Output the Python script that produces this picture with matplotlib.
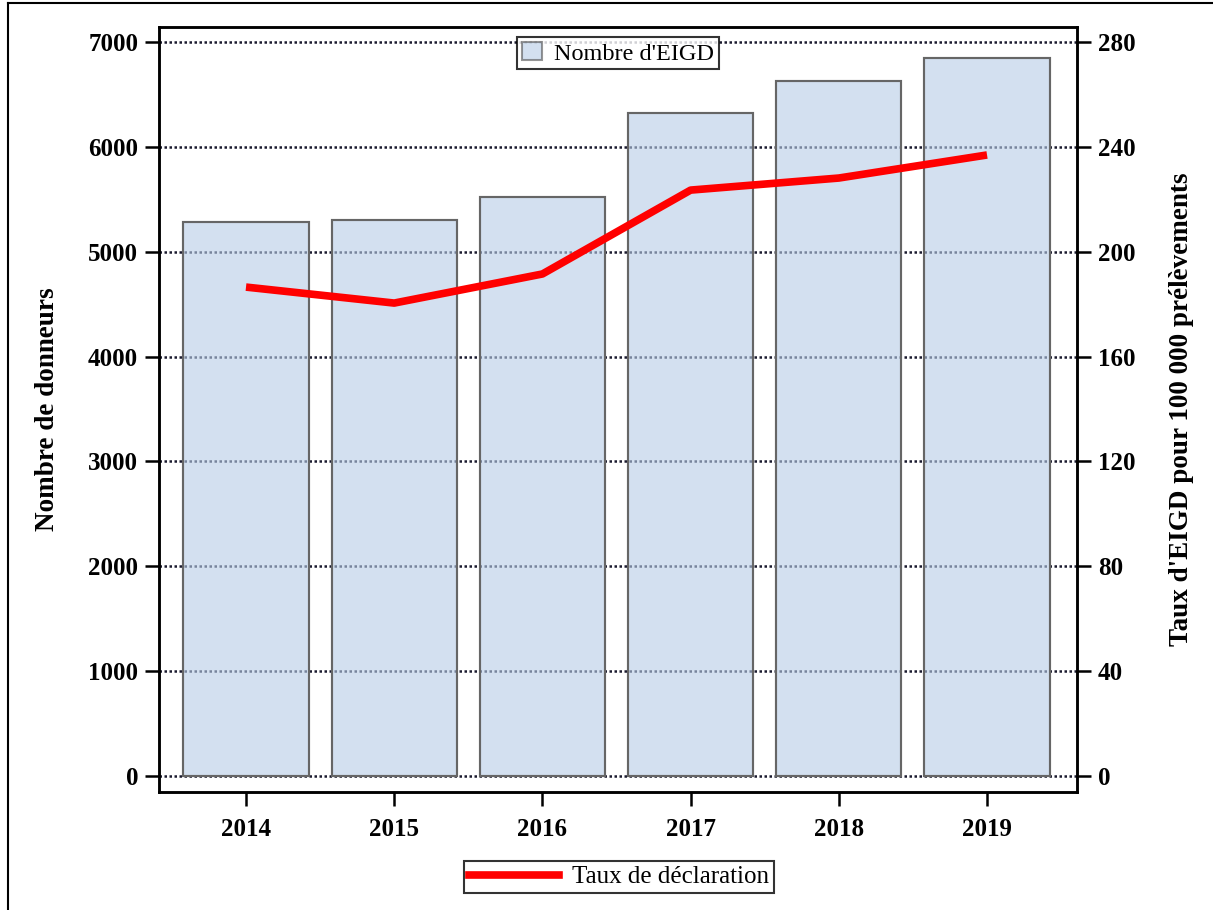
import matplotlib
matplotlib.use("Agg")
import matplotlib.pyplot as plt
from matplotlib.lines import Line2D

plt.rcParams["font.family"] = ["Liberation Serif", "DejaVu Serif"]

years = [2014, 2015, 2016, 2017, 2018, 2019]
nb_eigd = [5283, 5302, 5522, 6323, 6628, 6847]
taux = [186.5, 180.4, 191.5, 223.5, 228.1, 236.9]

fig = plt.figure(figsize=(12.13, 9.10), dpi=100)
ax = fig.add_axes([159 / 1213, 1 - 792 / 910, (1077 - 159) / 1213, (792 - 27) / 910])
ax2 = ax.twinx()

# bars on the left axis, rate line on the right one
ax.set_zorder(1)
ax2.set_zorder(2)
ax2.patch.set_visible(False)

ax.bar(years, nb_eigd, width=0.845, color="#B7CCE6", alpha=0.6,
       edgecolor="#505050", linewidth=1.5, zorder=3, label="Nombre d'EIGD")
# bar outlines fully opaque
ax.bar(years, nb_eigd, width=0.845, fill=False, edgecolor="#666666",
       linewidth=1.5, zorder=4)
ax2.plot(years, taux, color="#FF0000", linewidth=5.5, solid_capstyle="butt",
         label="Taux de déclaration")

ax.set_xlim(2013.413, 2019.607)
ax.set_ylim(-153, 7143)
ax2.set_ylim(-153 * 0.04, 7143 * 0.04)
ax.set_yticks(range(0, 7001, 1000))
ax2.set_yticks(range(0, 281, 40))
ax.set_xticks(years)

ax.yaxis.grid(True, linestyle=(0, (1, 1)), color="#1a1a2e", linewidth=1.8, zorder=0)
ax.set_axisbelow(True)

for a in (ax, ax2):
    for s in a.spines.values():
        s.set_linewidth(1.8)
    a.tick_params(axis="both", direction="out", length=10, width=1.8,
                  labelsize=18, pad=5)
    for lbl in a.get_xticklabels() + a.get_yticklabels():
        lbl.set_fontweight("bold")
ax.tick_params(axis="x", pad=9)

ax.set_ylabel("Nombre de donneurs", fontsize=19.5, fontweight="bold", labelpad=20)
ax2.set_ylabel("Taux d'EIGD pour 100 000 prélèvements", fontsize=19.5,
               fontweight="bold", labelpad=24)

leg1 = ax.legend(loc="upper center", bbox_to_anchor=(0.5, 0.987), fontsize=17.5,
                 frameon=True, fancybox=False, edgecolor="black",
                 borderpad=0.2, handlelength=0.8, handleheight=0.8,
                 handletextpad=0.5, borderaxespad=0)
leg1.get_frame().set_linewidth(1.5)

leg2 = fig.legend(handles=[Line2D([0], [0], color="#FF0000", linewidth=5.5)],
                  labels=["Taux de déclaration"], loc="center",
                  bbox_to_anchor=(619 / 1213, 1 - 877 / 910), fontsize=18,
                  frameon=True, fancybox=False, edgecolor="black",
                  borderpad=0.2, handlelength=3.6, handletextpad=0.5)
leg2.get_frame().set_linewidth(1.5)

# frame edges along the left and top of the figure
fig.add_artist(Line2D([8 / 1213, 8 / 1213], [0, 1 - 3 / 910], color="black",
                      linewidth=1.5, transform=fig.transFigure))
fig.add_artist(Line2D([8 / 1213, 1], [1 - 3 / 910, 1 - 3 / 910], color="black",
                      linewidth=1.5, transform=fig.transFigure))

fig.savefig("out.png", dpi=100)
